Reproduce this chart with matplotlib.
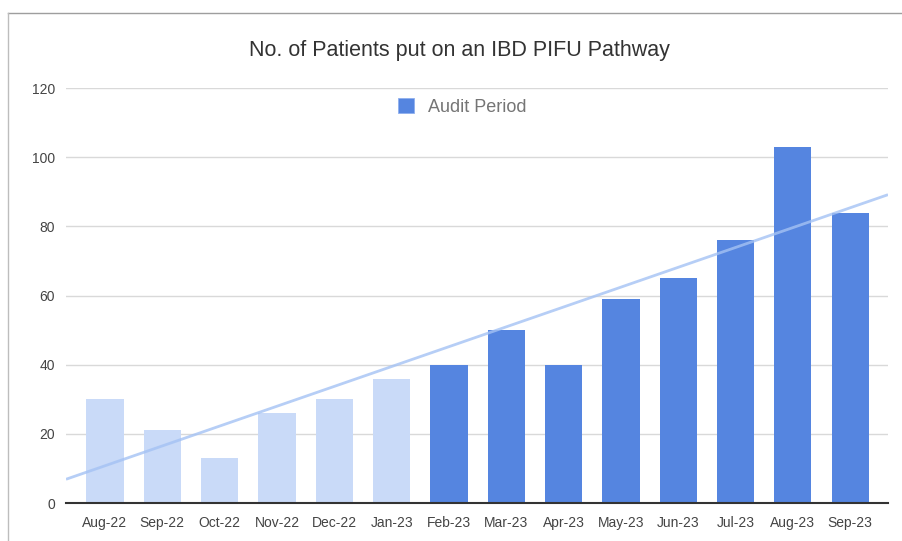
import numpy as np
import matplotlib
matplotlib.use("Agg")
import matplotlib.pyplot as plt
from matplotlib.patches import Patch
from matplotlib.lines import Line2D

plt.rcParams['font.family'] = ['Liberation Sans', 'DejaVu Sans']

months = ['Aug-22', 'Sep-22', 'Oct-22', 'Nov-22', 'Dec-22', 'Jan-23', 'Feb-23',
          'Mar-23', 'Apr-23', 'May-23', 'Jun-23', 'Jul-23', 'Aug-23', 'Sep-23']
patients = [30, 21, 13, 26, 30, 36, 40, 50, 40, 59, 65, 76, 103, 84]
audit = [False] * 6 + [True] * 8

light = '#c9daf8'
dark = '#5585e0'

fig = plt.figure(figsize=(9.03, 5.41), dpi=100)
ax = fig.add_axes([0.0731, 0.0702, 0.9103, 0.7671])

x = np.arange(len(months))
cols = [dark if a else light for a in audit]
ax.bar(x, patients, width=0.65, color=cols, zorder=3)

# trendline (linear fit over all months)
xl = (-0.68, 13.66)
k, b = np.polyfit(x, patients, 1)
tx = np.array(xl)
ax.plot(tx, k * tx + b, color='#a4c2f4', lw=2, alpha=0.8, zorder=4,
        solid_capstyle='butt')

ax.set_xlim(xl)
ax.set_ylim(0, 120)
ax.set_yticks(range(0, 121, 20))
ax.set_xticks(x)
ax.set_xticklabels(months)
ax.grid(axis='y', color='#d9d9d9', lw=1, zorder=0)
for s in ['top', 'right', 'left']:
    ax.spines[s].set_visible(False)
ax.spines['bottom'].set_color('#333333')
ax.spines['bottom'].set_linewidth(1.5)
ax.spines['bottom'].set_zorder(5)
ax.tick_params(axis='both', length=0, labelsize=10, labelcolor='#444444')
ax.tick_params(axis='y', pad=8)
ax.tick_params(axis='x', pad=9)

ax.legend(handles=[Patch(facecolor=dark, edgecolor='#8fb0ee', lw=0.6)],
          labels=['Audit Period'], loc='center', bbox_to_anchor=(0.482, 0.954),
          frameon=False, handlelength=0.9, handleheight=0.9, handletextpad=0.8,
          fontsize=13, labelcolor='#757575')

fig.text(0.509, 1 - 50 / 541, 'No. of Patients put on an IBD PIFU Pathway',
         ha='center', va='center', fontsize=15.5, color='#333333')

# screenshot frame (top and left edges)
fig.add_artist(Line2D([8 / 903, 1], [1 - 13 / 541, 1 - 13 / 541],
                      transform=fig.transFigure, color='#9e9e9e', lw=1))
fig.add_artist(Line2D([8 / 903, 8 / 903], [0, 1 - 13 / 541],
                      transform=fig.transFigure, color='#bdbdbd', lw=1))

fig.savefig('out.png', dpi=100)
